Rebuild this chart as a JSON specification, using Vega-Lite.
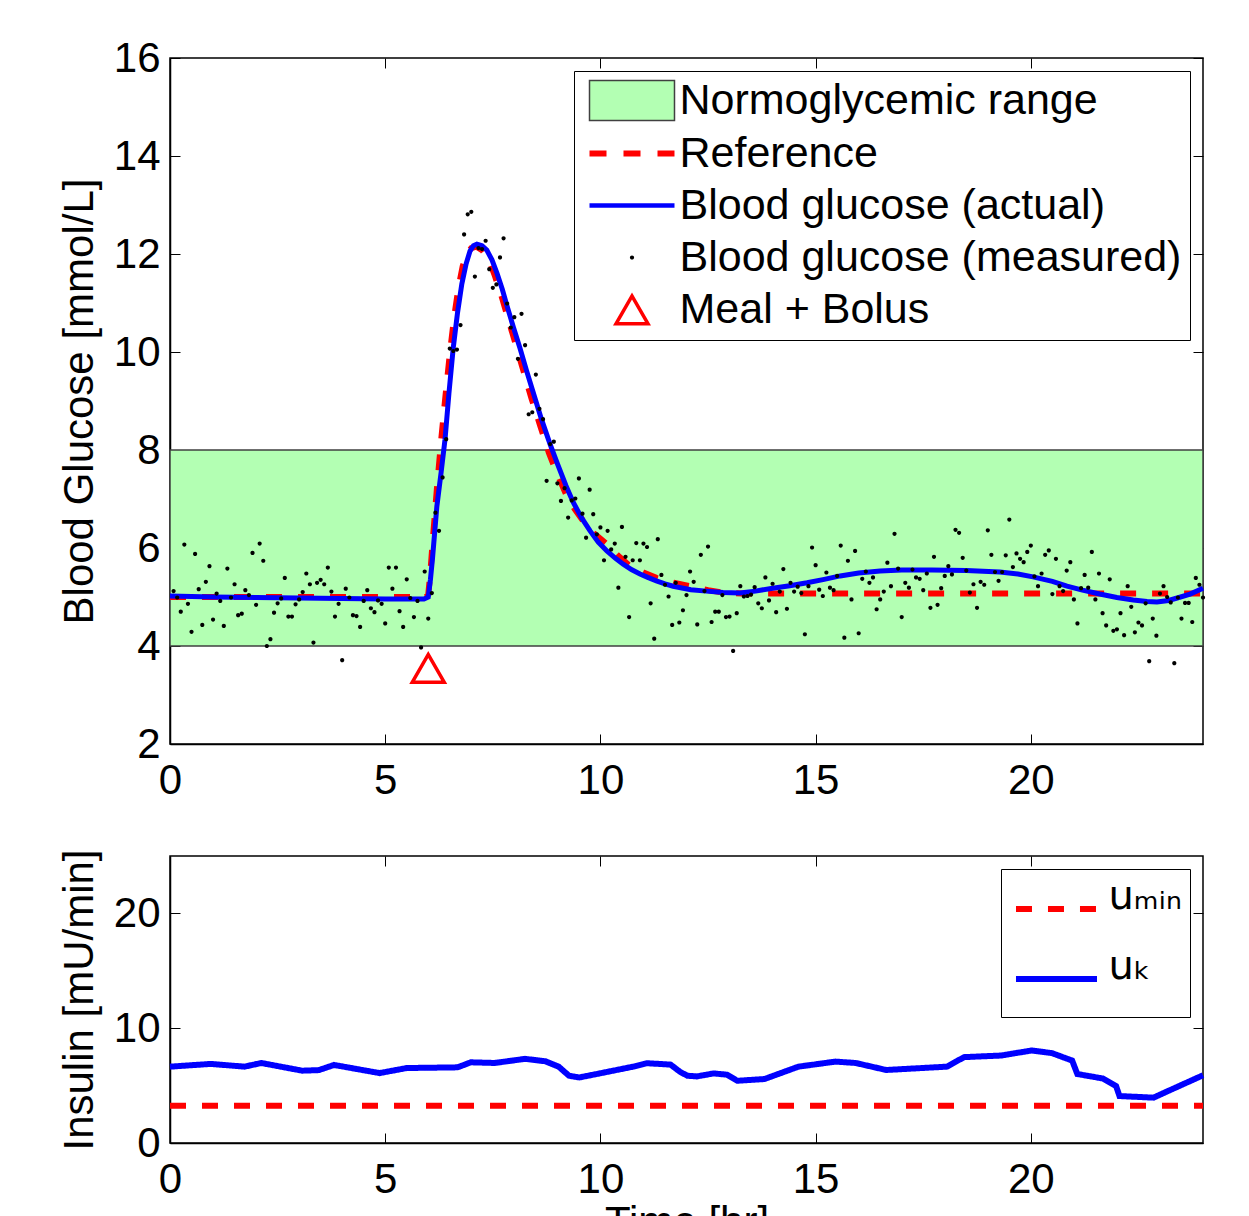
{
  "$schema": "https://vega.github.io/schema/vega-lite/v6.json",
  "background": "white",
  "padding": {"left": 57, "top": 36, "right": 10, "bottom": 10},
  "spacing": 46,
  "resolve": {"scale": {"color": "independent", "fill": "independent", "stroke": "independent", "shape": "independent", "strokeDash": "independent"}},
  "config": {
    "font": "Liberation Sans",
    "view": {"stroke": "#000000", "strokeWidth": 1.5},
    "legend": {"symbolFillColor": "transparent", "symbolStrokeColor": "transparent"},
    "axis": {
      "grid": false,
      "labelFont": "Liberation Sans",
      "labelFontSize": 42,
      "labelColor": "#000000",
      "titleFont": "Liberation Sans",
      "titleFontSize": 42,
      "titleFontWeight": "normal",
      "titleColor": "#000000",
      "domainColor": "#000000",
      "domainWidth": 1.5,
      "tickColor": "#000000",
      "tickWidth": 1,
      "tickSize": -10,
      "labelPadding": 20,
      "labelFlush": false,
      "labelOverlap": false
    },
    "axisX": {"labelPadding": 26, "titlePadding": 2},
    "axisY": {"titlePadding": 12}
  },
  "vconcat": [
    {
      "width": 1033,
      "height": 686,
      "layer": [
        {
          "data": {"values": [{"series": "Normoglycemic range", "lo": 4, "hi": 8}]},
          "mark": {"type": "rect", "strokeWidth": 1.5},
          "encoding": {
            "y": {"field": "lo", "type": "quantitative", "scale": {"domain": [2, 16], "nice": false, "zero": false}, "axis": null},
            "y2": {"field": "hi"},
            "fill": {
              "field": "series", "type": "nominal",
              "scale": {"domain": ["Normoglycemic range", "Reference", "Blood glucose (actual)", "Blood glucose (measured)", "Meal + Bolus"], "range": ["#b3ffb3", "#ff0000", "#0000ff", "#000000", "#ff0000"]},
              "legend": {"title": null, "orient": "top-right", "offset": 13, "padding": 8, "rowPadding": 8, "symbolOffset": 28.5, "labelOffset": 26, "symbolSize": 900, "symbolStrokeWidth": 1.5, "labelFont": "Liberation Sans", "labelFontSize": 43, "labelColor": "#000000", "labelLimit": 1000, "strokeColor": "#000000", "fillColor": "#ffffff", "cornerRadius": 0}
            },
            "stroke": {
              "field": "series", "type": "nominal",
              "scale": {"domain": ["Normoglycemic range", "Reference", "Blood glucose (actual)", "Blood glucose (measured)", "Meal + Bolus"], "range": ["#404040", "transparent", "transparent", "transparent", "transparent"]},
              "legend": {"title": null, "orient": "top-right", "offset": 13, "padding": 8, "rowPadding": 8, "symbolOffset": 28.5, "labelOffset": 26, "symbolSize": 900, "symbolStrokeWidth": 1.5, "labelFont": "Liberation Sans", "labelFontSize": 43, "labelColor": "#000000", "labelLimit": 1000, "strokeColor": "#000000", "fillColor": "#ffffff", "cornerRadius": 0}
            }
          }
        },
        {
          "data": {"values": [
            {"t": 0, "g": 5.0}, {"t": 5.95, "g": 5.0}, {"t": 6.0, "g": 5.05}, {"t": 6.05, "g": 5.5}, {"t": 6.1, "g": 6.1},
            {"t": 6.2, "g": 7.2}, {"t": 6.3, "g": 8.2}, {"t": 6.4, "g": 9.1}, {"t": 6.5, "g": 9.95}, {"t": 6.6, "g": 10.7},
            {"t": 6.7, "g": 11.3}, {"t": 6.8, "g": 11.75}, {"t": 6.9, "g": 12.0}, {"t": 7.0, "g": 12.12}, {"t": 7.12, "g": 12.15},
            {"t": 7.25, "g": 12.08}, {"t": 7.4, "g": 11.9}, {"t": 7.55, "g": 11.55}, {"t": 7.7, "g": 11.15}, {"t": 7.85, "g": 10.7},
            {"t": 8.0, "g": 10.25}, {"t": 8.2, "g": 9.65}, {"t": 8.4, "g": 9.05}, {"t": 8.6, "g": 8.5}, {"t": 8.8, "g": 7.95},
            {"t": 9.0, "g": 7.5}, {"t": 9.2, "g": 7.1}, {"t": 9.4, "g": 6.8}, {"t": 9.6, "g": 6.55}, {"t": 9.85, "g": 6.3},
            {"t": 10.15, "g": 6.08}, {"t": 10.4, "g": 5.85}, {"t": 10.69, "g": 5.63}, {"t": 11.0, "g": 5.5}, {"t": 11.3, "g": 5.39},
            {"t": 11.7, "g": 5.29}, {"t": 12.1, "g": 5.22}, {"t": 12.5, "g": 5.14}, {"t": 12.85, "g": 5.09}, {"t": 13.3, "g": 5.07},
            {"t": 24, "g": 5.07}
          ]},
          "mark": {"type": "line", "strokeWidth": 6, "strokeDash": [16, 16]},
          "encoding": {
            "x": {"field": "t", "type": "quantitative", "scale": {"domain": [0, 24], "nice": false, "zero": false}, "axis": {"orient": "bottom", "values": [0, 5, 10, 15, 20], "title": null}},
            "y": {"field": "g", "type": "quantitative", "axis": {"orient": "left", "values": [2, 4, 6, 8, 10, 12, 14, 16], "title": "Blood Glucose [mmol/L]"}},
            "color": {"datum": "Reference", "type": "nominal", "scale": {"domain": ["Normoglycemic range", "Reference", "Blood glucose (actual)", "Blood glucose (measured)", "Meal + Bolus"], "range": ["#b3ffb3", "#ff0000", "#0000ff", "#000000", "#ff0000"]}, "legend": null}
          }
        },
        {
          "data": {"values": [
            {"t": 0, "g": 5.02}, {"t": 1, "g": 5.0}, {"t": 2, "g": 4.99}, {"t": 3, "g": 4.98}, {"t": 4, "g": 4.97}, {"t": 5, "g": 4.96},
            {"t": 5.9, "g": 4.96}, {"t": 6.0, "g": 5.0}, {"t": 6.05, "g": 5.35}, {"t": 6.1, "g": 5.8}, {"t": 6.2, "g": 6.85},
            {"t": 6.3, "g": 7.55}, {"t": 6.39, "g": 8.22}, {"t": 6.48, "g": 9.15}, {"t": 6.58, "g": 10.08}, {"t": 6.68, "g": 10.8},
            {"t": 6.78, "g": 11.39}, {"t": 6.88, "g": 11.8}, {"t": 6.97, "g": 12.06}, {"t": 7.05, "g": 12.17}, {"t": 7.13, "g": 12.2},
            {"t": 7.25, "g": 12.17}, {"t": 7.36, "g": 12.08}, {"t": 7.48, "g": 11.88}, {"t": 7.6, "g": 11.6}, {"t": 7.72, "g": 11.28},
            {"t": 7.83, "g": 10.94}, {"t": 7.98, "g": 10.5}, {"t": 8.13, "g": 10.08}, {"t": 8.28, "g": 9.63}, {"t": 8.43, "g": 9.2},
            {"t": 8.63, "g": 8.63}, {"t": 8.83, "g": 8.12}, {"t": 9.0, "g": 7.72}, {"t": 9.2, "g": 7.27}, {"t": 9.37, "g": 6.93},
            {"t": 9.56, "g": 6.62}, {"t": 9.76, "g": 6.35}, {"t": 9.95, "g": 6.12}, {"t": 10.15, "g": 5.94}, {"t": 10.35, "g": 5.79},
            {"t": 10.53, "g": 5.67}, {"t": 10.72, "g": 5.56}, {"t": 10.92, "g": 5.47}, {"t": 11.1, "g": 5.4}, {"t": 11.3, "g": 5.33},
            {"t": 11.5, "g": 5.27}, {"t": 11.69, "g": 5.22}, {"t": 12.1, "g": 5.15}, {"t": 12.46, "g": 5.12}, {"t": 12.85, "g": 5.09},
            {"t": 13.24, "g": 5.08}, {"t": 13.6, "g": 5.12}, {"t": 14.0, "g": 5.18}, {"t": 14.4, "g": 5.23}, {"t": 14.8, "g": 5.29},
            {"t": 15.2, "g": 5.36}, {"t": 15.57, "g": 5.43}, {"t": 16.0, "g": 5.49}, {"t": 16.5, "g": 5.53}, {"t": 17.0, "g": 5.55},
            {"t": 17.7, "g": 5.55}, {"t": 18.5, "g": 5.54}, {"t": 19.28, "g": 5.51}, {"t": 19.7, "g": 5.47}, {"t": 20.05, "g": 5.41},
            {"t": 20.5, "g": 5.32}, {"t": 20.84, "g": 5.22}, {"t": 21.2, "g": 5.14}, {"t": 21.6, "g": 5.06}, {"t": 22.0, "g": 4.99},
            {"t": 22.38, "g": 4.94}, {"t": 22.7, "g": 4.91}, {"t": 22.93, "g": 4.9}, {"t": 23.2, "g": 4.93}, {"t": 23.4, "g": 4.98},
            {"t": 23.7, "g": 5.06}, {"t": 24.0, "g": 5.18}
          ]},
          "mark": {"type": "line", "strokeWidth": 5},
          "encoding": {
            "x": {"field": "t", "type": "quantitative", "axis": null},
            "y": {"field": "g", "type": "quantitative", "axis": null},
            "color": {"datum": "Blood glucose (actual)", "type": "nominal", "scale": {"domain": ["Normoglycemic range", "Reference", "Blood glucose (actual)", "Blood glucose (measured)", "Meal + Bolus"], "range": ["#b3ffb3", "#ff0000", "#0000ff", "#000000", "#ff0000"]}, "legend": null}
          }
        },
        {
          "data": {"values": [
            {"t":0.083,"g":5.12},{"t":0.167,"g":4.99},{"t":0.25,"g":4.7},{"t":0.333,"g":6.07},{"t":0.417,"g":4.86},{"t":0.5,"g":4.29},{"t":0.583,"g":5.88},{"t":0.667,"g":5.16},{"t":0.75,"g":4.43},{"t":0.833,"g":5.31},{"t":0.917,"g":5.63},{"t":1,"g":4.54},
            {"t":1.083,"g":5.07},{"t":1.167,"g":4.92},{"t":1.25,"g":4.41},{"t":1.333,"g":5.58},{"t":1.417,"g":4.99},{"t":1.5,"g":5.26},{"t":1.583,"g":4.63},{"t":1.667,"g":4.66},{"t":1.75,"g":5.14},{"t":1.833,"g":5.04},{"t":1.917,"g":5.9},{"t":2,"g":4.84},
            {"t":2.083,"g":6.09},{"t":2.167,"g":5.74},{"t":2.25,"g":4.0},{"t":2.333,"g":4.14},{"t":2.417,"g":4.68},{"t":2.5,"g":4.87},{"t":2.583,"g":4.97},{"t":2.667,"g":5.39},{"t":2.75,"g":4.6},{"t":2.833,"g":4.6},{"t":2.917,"g":4.85},{"t":3,"g":4.95},
            {"t":3.083,"g":5.1},{"t":3.167,"g":5.48},{"t":3.25,"g":5.26},{"t":3.333,"g":4.07},{"t":3.417,"g":5.29},{"t":3.5,"g":5.35},{"t":3.583,"g":5.26},{"t":3.667,"g":5.6},{"t":3.75,"g":5.11},{"t":3.833,"g":4.6},{"t":3.917,"g":4.86},{"t":4,"g":3.71},
            {"t":4.083,"g":5.17},{"t":4.167,"g":4.99},{"t":4.25,"g":4.63},{"t":4.333,"g":4.61},{"t":4.417,"g":4.39},{"t":4.5,"g":4.92},{"t":4.583,"g":5.14},{"t":4.667,"g":4.77},{"t":4.75,"g":4.69},{"t":4.833,"g":4.93},{"t":4.917,"g":4.86},{"t":5,"g":4.46},
            {"t":5.083,"g":5.6},{"t":5.167,"g":5.17},{"t":5.25,"g":5.6},{"t":5.333,"g":4.71},{"t":5.417,"g":4.39},{"t":5.5,"g":5.36},{"t":5.583,"g":4.98},{"t":5.667,"g":4.59},{"t":5.75,"g":4.92},{"t":5.833,"g":3.97},{"t":5.917,"g":5.52},{"t":6,"g":4.56},
            {"t":6.083,"g":5.08},{"t":6.167,"g":6.72},{"t":6.25,"g":6.35},{"t":6.333,"g":7.44},{"t":6.417,"g":8.22},{"t":6.5,"g":10.07},{"t":6.583,"g":10.02},{"t":6.667,"g":10.05},{"t":6.75,"g":10.55},{"t":6.833,"g":12.4},{"t":6.917,"g":12.81},{"t":7,"g":12.86},
            {"t":7.083,"g":11.54},{"t":7.167,"g":12.12},{"t":7.25,"g":12.1},{"t":7.333,"g":12.27},{"t":7.417,"g":11.69},{"t":7.5,"g":11.31},{"t":7.583,"g":11.38},{"t":7.667,"g":11.93},{"t":7.75,"g":12.32},{"t":7.833,"g":10.99},{"t":7.917,"g":10.5},{"t":8,"g":10.71},
            {"t":8.083,"g":9.86},{"t":8.167,"g":10.78},{"t":8.25,"g":10.14},{"t":8.333,"g":8.73},{"t":8.417,"g":8.77},{"t":8.5,"g":9.54},{"t":8.583,"g":8.84},{"t":8.667,"g":8.63},{"t":8.75,"g":7.37},{"t":8.833,"g":8.12},{"t":8.917,"g":8.17},{"t":9,"g":7.32},
            {"t":9.083,"g":6.96},{"t":9.167,"g":7.22},{"t":9.25,"g":6.62},{"t":9.333,"g":6.97},{"t":9.417,"g":7.01},{"t":9.5,"g":7.42},{"t":9.583,"g":6.7},{"t":9.667,"g":6.21},{"t":9.75,"g":7.19},{"t":9.833,"g":6.69},{"t":9.917,"g":6.28},{"t":10,"g":6.42},
            {"t":10.083,"g":5.75},{"t":10.167,"g":6.35},{"t":10.25,"g":5.97},{"t":10.333,"g":6.09},{"t":10.417,"g":5.19},{"t":10.5,"g":6.43},{"t":10.583,"g":5.82},{"t":10.667,"g":4.59},{"t":10.75,"g":5.75},{"t":10.833,"g":6.1},{"t":10.917,"g":5.75},{"t":11,"g":6.09},
            {"t":11.083,"g":6.02},{"t":11.167,"g":4.87},{"t":11.25,"g":4.15},{"t":11.333,"g":6.18},{"t":11.417,"g":5.45},{"t":11.5,"g":5.25},{"t":11.583,"g":5.01},{"t":11.667,"g":4.43},{"t":11.75,"g":5.29},{"t":11.833,"g":4.48},{"t":11.917,"g":4.73},{"t":12,"g":5.04},
            {"t":12.083,"g":5.52},{"t":12.167,"g":5.31},{"t":12.25,"g":4.44},{"t":12.333,"g":5.86},{"t":12.417,"g":5.12},{"t":12.5,"g":6.03},{"t":12.583,"g":4.49},{"t":12.667,"g":4.7},{"t":12.75,"g":4.7},{"t":12.833,"g":5.04},{"t":12.917,"g":4.59},{"t":13,"g":4.6},
            {"t":13.083,"g":3.9},{"t":13.167,"g":4.67},{"t":13.25,"g":5.22},{"t":13.333,"g":5.01},{"t":13.417,"g":5.02},{"t":13.5,"g":5.05},{"t":13.583,"g":5.2},{"t":13.667,"g":4.87},{"t":13.75,"g":4.77},{"t":13.833,"g":5.4},{"t":13.917,"g":4.93},{"t":14,"g":5.27},
            {"t":14.083,"g":4.69},{"t":14.167,"g":5.11},{"t":14.25,"g":5.57},{"t":14.333,"g":4.76},{"t":14.417,"g":5.29},{"t":14.5,"g":5.11},{"t":14.583,"g":5.21},{"t":14.667,"g":5.08},{"t":14.75,"g":4.24},{"t":14.833,"g":5.22},{"t":14.917,"g":6.01},{"t":15,"g":5.65},
            {"t":15.083,"g":5.15},{"t":15.167,"g":5.02},{"t":15.25,"g":5.5},{"t":15.333,"g":5.19},{"t":15.417,"g":5.14},{"t":15.5,"g":5.43},{"t":15.583,"g":6.05},{"t":15.667,"g":4.17},{"t":15.75,"g":5.74},{"t":15.833,"g":4.95},{"t":15.917,"g":5.94},{"t":16,"g":4.26},
            {"t":16.083,"g":5.37},{"t":16.167,"g":5.52},{"t":16.25,"g":5.29},{"t":16.333,"g":5.4},{"t":16.417,"g":4.75},{"t":16.5,"g":4.95},{"t":16.583,"g":5.11},{"t":16.667,"g":5.7},{"t":16.75,"g":5.22},{"t":16.833,"g":6.29},{"t":16.917,"g":5.58},{"t":17,"g":4.59},
            {"t":17.083,"g":5.29},{"t":17.167,"g":5.19},{"t":17.25,"g":5.56},{"t":17.333,"g":5.4},{"t":17.417,"g":5.37},{"t":17.5,"g":5.14},{"t":17.583,"g":5.48},{"t":17.667,"g":4.78},{"t":17.75,"g":5.82},{"t":17.833,"g":4.84},{"t":17.917,"g":5.18},{"t":18,"g":5.43},
            {"t":18.083,"g":5.63},{"t":18.167,"g":5.46},{"t":18.25,"g":6.37},{"t":18.333,"g":6.31},{"t":18.417,"g":5.8},{"t":18.5,"g":5.54},{"t":18.583,"g":5.09},{"t":18.667,"g":5.26},{"t":18.75,"g":4.78},{"t":18.833,"g":5.31},{"t":18.917,"g":5.25},{"t":19,"g":6.36},
            {"t":19.083,"g":5.86},{"t":19.167,"g":5.51},{"t":19.25,"g":5.33},{"t":19.333,"g":5.51},{"t":19.417,"g":5.85},{"t":19.5,"g":6.58},{"t":19.583,"g":5.61},{"t":19.667,"g":5.89},{"t":19.75,"g":5.78},{"t":19.833,"g":5.71},{"t":19.917,"g":5.92},{"t":20,"g":6.05},
            {"t":20.083,"g":5.42},{"t":20.167,"g":5.22},{"t":20.25,"g":5.48},{"t":20.333,"g":5.86},{"t":20.417,"g":5.95},{"t":20.5,"g":5.06},{"t":20.583,"g":5.78},{"t":20.667,"g":5.22},{"t":20.75,"g":5.12},{"t":20.833,"g":5.54},{"t":20.917,"g":5.71},{"t":21,"g":4.95},
            {"t":21.083,"g":4.46},{"t":21.167,"g":5.18},{"t":21.25,"g":5.45},{"t":21.333,"g":5.19},{"t":21.417,"g":5.92},{"t":21.5,"g":4.95},{"t":21.583,"g":5.48},{"t":21.667,"g":4.67},{"t":21.75,"g":4.42},{"t":21.833,"g":5.36},{"t":21.917,"g":4.31},{"t":22,"g":4.34},
            {"t":22.083,"g":4.67},{"t":22.167,"g":4.22},{"t":22.25,"g":5.22},{"t":22.333,"g":4.8},{"t":22.417,"g":4.28},{"t":22.5,"g":4.48},{"t":22.583,"g":4.42},{"t":22.667,"g":4.87},{"t":22.75,"g":3.69},{"t":22.833,"g":4.56},{"t":22.917,"g":4.21},{"t":23,"g":5.07},
            {"t":23.083,"g":5.22},{"t":23.167,"g":5.0},{"t":23.25,"g":4.89},{"t":23.333,"g":3.65},{"t":23.417,"g":4.99},{"t":23.5,"g":4.56},{"t":23.583,"g":4.88},{"t":23.667,"g":4.88},{"t":23.75,"g":4.49},{"t":23.833,"g":5.39},{"t":23.917,"g":5.25},{"t":24,"g":4.99}
          ]},
          "mark": {"type": "point", "size": 900, "filled": true, "opacity": 1},
          "encoding": {
            "x": {"field": "t", "type": "quantitative", "axis": {"orient": "top", "labels": false, "domain": false, "title": null, "values": [0, 5, 10, 15, 20]}},
            "y": {"field": "g", "type": "quantitative", "axis": {"orient": "right", "labels": false, "domain": false, "title": null, "values": [2, 4, 6, 8, 10, 12, 14, 16]}},
            "fill": {
              "datum": "Blood glucose (measured)", "type": "nominal",
              "scale": {"domain": ["Normoglycemic range", "Reference", "Blood glucose (actual)", "Blood glucose (measured)", "Meal + Bolus"], "range": ["#b3ffb3", "#ff0000", "#0000ff", "#000000", "#ff0000"]},
              "legend": {"title": null, "orient": "top-right", "offset": 13, "padding": 8, "rowPadding": 8, "symbolOffset": 28.5, "labelOffset": 26, "symbolSize": 900, "symbolStrokeWidth": 1.5, "labelFont": "Liberation Sans", "labelFontSize": 43, "labelColor": "#000000", "labelLimit": 1000, "strokeColor": "#000000", "fillColor": "#ffffff", "cornerRadius": 0}
            },
            "shape": {
              "datum": "Blood glucose (measured)", "type": "nominal",
              "scale": {"domain": ["Normoglycemic range", "Reference", "Blood glucose (actual)", "Blood glucose (measured)", "Meal + Bolus"], "range": ["M-2.833,-1.333H2.833V1.333H-2.833Z", "M-2.833,-0.2H-1.7V0.2H-2.833Z M-0.567,-0.2H0.567V0.2H-0.567Z M1.7,-0.2H2.833V0.2H1.7Z", "M-2.833,-0.15H2.833V0.15H-2.833Z", "M-0.14,0A0.14,0.14,0,1,0,0.14,0A0.14,0.14,0,1,0,-0.14,0Z", "M0,-1.133L1.267,1.067L-1.267,1.067Z M0,-0.665L-0.863,0.833L0.863,0.833Z"]},
              "legend": {"title": null, "orient": "top-right", "offset": 13, "padding": 8, "rowPadding": 8, "symbolOffset": 28.5, "labelOffset": 26, "symbolSize": 900, "symbolStrokeWidth": 1.5, "labelFont": "Liberation Sans", "labelFontSize": 43, "labelColor": "#000000", "labelLimit": 1000, "strokeColor": "#000000", "fillColor": "#ffffff", "cornerRadius": 0}
            }
          }
        },
        {
          "data": {"values": [{"t": 6.0, "g": 3.55}]},
          "mark": {"type": "point", "size": 900, "filled": true, "opacity": 1},
          "encoding": {
            "x": {"field": "t", "type": "quantitative", "axis": null},
            "y": {"field": "g", "type": "quantitative", "axis": null},
            "fill": {
              "datum": "Meal + Bolus", "type": "nominal",
              "scale": {"domain": ["Normoglycemic range", "Reference", "Blood glucose (actual)", "Blood glucose (measured)", "Meal + Bolus"], "range": ["#b3ffb3", "#ff0000", "#0000ff", "#000000", "#ff0000"]},
              "legend": {"title": null, "orient": "top-right", "offset": 13, "padding": 8, "rowPadding": 8, "symbolOffset": 28.5, "labelOffset": 26, "symbolSize": 900, "symbolStrokeWidth": 1.5, "labelFont": "Liberation Sans", "labelFontSize": 43, "labelColor": "#000000", "labelLimit": 1000, "strokeColor": "#000000", "fillColor": "#ffffff", "cornerRadius": 0}
            },
            "shape": {
              "datum": "Meal + Bolus", "type": "nominal",
              "scale": {"domain": ["Normoglycemic range", "Reference", "Blood glucose (actual)", "Blood glucose (measured)", "Meal + Bolus"], "range": ["M-2.833,-1.333H2.833V1.333H-2.833Z", "M-2.833,-0.2H-1.7V0.2H-2.833Z M-0.567,-0.2H0.567V0.2H-0.567Z M1.7,-0.2H2.833V0.2H1.7Z", "M-2.833,-0.15H2.833V0.15H-2.833Z", "M-0.14,0A0.14,0.14,0,1,0,0.14,0A0.14,0.14,0,1,0,-0.14,0Z", "M0,-1.133L1.267,1.067L-1.267,1.067Z M0,-0.665L-0.863,0.833L0.863,0.833Z"]},
              "legend": {"title": null, "orient": "top-right", "offset": 13, "padding": 8, "rowPadding": 8, "symbolOffset": 28.5, "labelOffset": 26, "symbolSize": 900, "symbolStrokeWidth": 1.5, "labelFont": "Liberation Sans", "labelFontSize": 43, "labelColor": "#000000", "labelLimit": 1000, "strokeColor": "#000000", "fillColor": "#ffffff", "cornerRadius": 0}
            }
          }
        }
      ]
    },
    {
      "width": 1033,
      "height": 287,
      "layer": [
        {
          "data": {"values": [{"t": 0, "u": 3.25}, {"t": 24, "u": 3.25}]},
          "mark": {"type": "line", "strokeWidth": 6},
          "encoding": {
            "x": {"field": "t", "type": "quantitative", "scale": {"domain": [0, 24], "nice": false, "zero": false}, "axis": {"orient": "top", "labels": false, "domain": false, "title": null, "values": [0, 5, 10, 15, 20]}},
            "y": {"field": "u", "type": "quantitative", "scale": {"domain": [0, 25], "nice": false}, "axis": {"orient": "right", "labels": false, "domain": false, "title": null, "values": [0, 10, 20]}},
            "stroke": {
              "datum": "uₘᵢₙ", "type": "nominal",
              "scale": {"domain": ["uₘᵢₙ", "uₖ"], "range": ["#ff0000", "#0000ff"]},
              "legend": {"title": " ", "titleOrient": "bottom", "titleFontSize": 12, "titlePadding": 7, "orient": "top-right", "offset": 13, "padding": 8, "rowPadding": 26, "symbolType": "M-1.397,0H1.397", "symbolSize": 3364, "symbolStrokeWidth": 6, "symbolOffset": 15.5, "labelOffset": 20, "labelFont": "DejaVu Sans", "labelFontSize": 40, "labelBaseline": "alphabetic", "labelColor": "#000000", "labelLimit": 1000, "strokeColor": "#000000", "fillColor": "#ffffff", "cornerRadius": 0}
            },
            "strokeDash": {
              "datum": "uₘᵢₙ", "type": "nominal",
              "scale": {"domain": ["uₘᵢₙ", "uₖ"], "range": [[16, 16], [1, 0]]},
              "legend": {"title": " ", "titleOrient": "bottom", "titleFontSize": 12, "titlePadding": 7, "orient": "top-right", "offset": 13, "padding": 8, "rowPadding": 26, "symbolType": "M-1.397,0H1.397", "symbolSize": 3364, "symbolStrokeWidth": 6, "symbolOffset": 15.5, "labelOffset": 20, "labelFont": "DejaVu Sans", "labelFontSize": 40, "labelBaseline": "alphabetic", "labelColor": "#000000", "labelLimit": 1000, "strokeColor": "#000000", "fillColor": "#ffffff", "cornerRadius": 0}
            }
          }
        },
        {
          "data": {"values": [
            {"t": 0, "u": 6.65}, {"t": 0.95, "u": 6.89}, {"t": 1.73, "u": 6.65}, {"t": 2.12, "u": 6.97}, {"t": 3.07, "u": 6.3},
            {"t": 3.46, "u": 6.35}, {"t": 3.81, "u": 6.8}, {"t": 4.87, "u": 6.09}, {"t": 5.5, "u": 6.53}, {"t": 6.68, "u": 6.59},
            {"t": 6.99, "u": 7.03}, {"t": 7.54, "u": 6.97}, {"t": 8.25, "u": 7.33}, {"t": 8.72, "u": 7.12}, {"t": 9.03, "u": 6.65},
            {"t": 9.27, "u": 5.86}, {"t": 9.51, "u": 5.71}, {"t": 9.98, "u": 6.06}, {"t": 10.76, "u": 6.65}, {"t": 11.08, "u": 6.95},
            {"t": 11.63, "u": 6.83}, {"t": 11.85, "u": 6.2}, {"t": 12.02, "u": 5.86}, {"t": 12.24, "u": 5.8}, {"t": 12.63, "u": 6.06},
            {"t": 12.94, "u": 5.95}, {"t": 13.18, "u": 5.42}, {"t": 13.81, "u": 5.57}, {"t": 14.6, "u": 6.65}, {"t": 15.46, "u": 7.09},
            {"t": 15.93, "u": 6.97}, {"t": 16.64, "u": 6.36}, {"t": 18.05, "u": 6.65}, {"t": 18.45, "u": 7.48}, {"t": 19.31, "u": 7.62},
            {"t": 20.02, "u": 8.06}, {"t": 20.49, "u": 7.83}, {"t": 20.96, "u": 7.18}, {"t": 21.08, "u": 6.01}, {"t": 21.67, "u": 5.62},
            {"t": 21.98, "u": 4.97}, {"t": 22.06, "u": 4.09}, {"t": 22.85, "u": 3.95}, {"t": 23.16, "u": 4.48}, {"t": 24.0, "u": 5.9}
          ]},
          "mark": {"type": "line", "strokeWidth": 6},
          "encoding": {
            "x": {"field": "t", "type": "quantitative", "axis": {"orient": "bottom", "values": [0, 5, 10, 15, 20], "title": "Time [hr]"}},
            "y": {"field": "u", "type": "quantitative", "axis": {"orient": "left", "values": [0, 10, 20], "title": "Insulin [mU/min]"}},
            "stroke": {
              "datum": "uₖ", "type": "nominal",
              "scale": {"domain": ["uₘᵢₙ", "uₖ"], "range": ["#ff0000", "#0000ff"]},
              "legend": {"title": " ", "titleOrient": "bottom", "titleFontSize": 12, "titlePadding": 7, "orient": "top-right", "offset": 13, "padding": 8, "rowPadding": 26, "symbolType": "M-1.397,0H1.397", "symbolSize": 3364, "symbolStrokeWidth": 6, "symbolOffset": 15.5, "labelOffset": 20, "labelFont": "DejaVu Sans", "labelFontSize": 40, "labelBaseline": "alphabetic", "labelColor": "#000000", "labelLimit": 1000, "strokeColor": "#000000", "fillColor": "#ffffff", "cornerRadius": 0}
            },
            "strokeDash": {
              "datum": "uₖ", "type": "nominal",
              "scale": {"domain": ["uₘᵢₙ", "uₖ"], "range": [[16, 16], [1, 0]]},
              "legend": {"title": " ", "titleOrient": "bottom", "titleFontSize": 12, "titlePadding": 7, "orient": "top-right", "offset": 13, "padding": 8, "rowPadding": 26, "symbolType": "M-1.397,0H1.397", "symbolSize": 3364, "symbolStrokeWidth": 6, "symbolOffset": 15.5, "labelOffset": 20, "labelFont": "DejaVu Sans", "labelFontSize": 40, "labelBaseline": "alphabetic", "labelColor": "#000000", "labelLimit": 1000, "strokeColor": "#000000", "fillColor": "#ffffff", "cornerRadius": 0}
            }
          }
        }
      ]
    }
  ]
}
